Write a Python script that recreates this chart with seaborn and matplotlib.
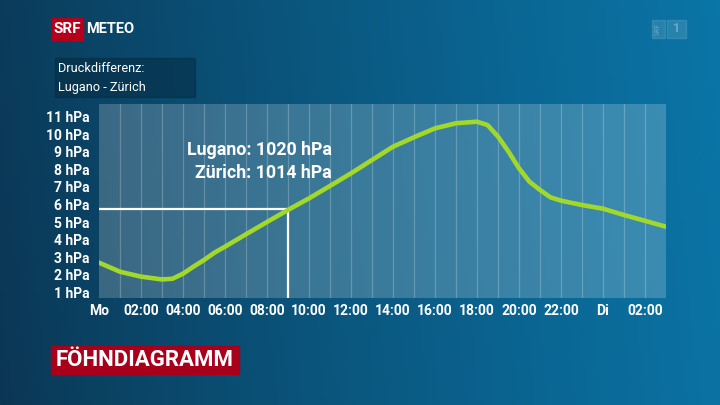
import numpy as np
import pandas as pd
import matplotlib
matplotlib.use("Agg")
import matplotlib.pyplot as plt
from matplotlib.patches import Rectangle
import seaborn as sns

# Data: pressure difference Lugano - Zürich (hours from Monday 00:00)
hours = [0, 1, 2, 3, 3.5, 4, 4.5, 5, 5.5, 6, 7, 8, 9, 10, 11, 12, 13, 14, 15,
         16, 17, 18, 18.5, 19, 19.5, 20, 20.5, 21, 21.5, 22, 23, 24, 25, 26, 27]
diff_hpa = [2.68, 2.16, 1.88, 1.72, 1.76, 2.05, 2.45, 2.83, 3.25, 3.59, 4.3,
            5.0, 5.69, 6.35, 7.06, 7.78, 8.54, 9.3, 9.84, 10.35, 10.64, 10.73,
            10.54, 9.88, 9.02, 8.07, 7.3, 6.83, 6.41, 6.22, 5.97, 5.76, 5.4,
            5.07, 4.73]

tick_hours = [0, 2, 4, 6, 8, 10, 12, 14, 16, 18, 20, 22, 24, 26]
tick_labels = ["Mo", "02:00", "04:00", "06:00", "08:00", "10:00", "12:00",
               "14:00", "16:00", "18:00", "20:00", "22:00", "Di", "02:00"]
y_ticks = [1, 2, 3, 4, 5, 6, 7, 8, 9, 10, 11]
y_labels = [f"{v} hPa" for v in y_ticks]

marker_hour = 9
marker_value = 5.74
annotation = ["Lugano: 1020 hPa", "Zürich: 1014 hPa"]

df = pd.DataFrame({"hour": hours, "diff": diff_hpa})

sns.set_theme(style="white")
plt.rcParams["font.family"] = ["Roboto", "DejaVu Sans"]

fig = plt.figure(figsize=(7.2, 4.05), dpi=100)

# background gradient
bg = fig.add_axes([0, 0, 1, 1])
xx, yy = np.meshgrid(np.linspace(0, 1, 200), np.linspace(0, 1, 120))
t = np.clip(xx * 0.85 + (1 - yy) * 0.05 + 0.05, 0, 1) ** 0.8
dark = np.array([0x0b, 0x30, 0x4b]) / 255
light = np.array([0x0a, 0x78, 0xab]) / 255
img = dark[None, None, :] * (1 - t[..., None]) + light[None, None, :] * t[..., None]
bg.imshow(img, aspect="auto", extent=[0, 1, 0, 1], origin="upper")
bg.set_axis_off()

# header / labels
fig.patches.append(Rectangle((52 / 720, 1 - 40 / 405), 31 / 720, 22 / 405,
                             transform=fig.transFigure, color="#b5001c"))
fig.text(67.5 / 720, 1 - 29 / 405, "SRF", color="white", fontsize=11,
         fontweight="bold", ha="center", va="center")
fig.text(86 / 720, 1 - 29 / 405, "METEO", color="white", fontsize=10.5,
         fontweight="bold", ha="left", va="center")

fig.patches.append(Rectangle((55 / 720, 1 - 97 / 405), 140 / 720, 39 / 405,
                             transform=fig.transFigure, color="#04263a",
                             alpha=0.45))
fig.text(58 / 720, 1 - 68 / 405, "Druckdifferenz:", color="white",
         fontsize=9.2, ha="left", va="center")
fig.text(58 / 720, 1 - 87 / 405, "Lugano - Zürich", color="white",
         fontsize=9.2, ha="left", va="center")

fig.patches.append(Rectangle((51 / 720, 1 - 374 / 405), 188 / 720, 28 / 405,
                             transform=fig.transFigure, color="#a8001a"))
fig.text(145 / 720, 1 - 360 / 405, "FÖHNDIAGRAMM", color="white",
         fontsize=16, fontweight="bold", ha="center", va="center")

# faint channel logo
fig.patches.append(Rectangle((652 / 720, 1 - 38 / 405), 13 / 720, 18 / 405,
                             transform=fig.transFigure, color="white",
                             alpha=0.12))
fig.patches.append(Rectangle((667 / 720, 1 - 38 / 405), 19 / 720, 18 / 405,
                             transform=fig.transFigure, color="white",
                             alpha=0.12))
fig.text(658.5 / 720, 1 - 29 / 405, "SRF", color="white", alpha=0.3,
         fontsize=5, rotation=90, ha="center", va="center")
fig.text(676.5 / 720, 1 - 29 / 405, "1", color="white", alpha=0.3,
         fontsize=9, fontweight="bold", ha="center", va="center")

# chart
ax = fig.add_axes([99 / 720, 1 - 298 / 405, 567 / 720, 194 / 405])
ax.set_facecolor((1, 1, 1, 0.2))
for s in ax.spines.values():
    s.set_visible(False)

for h in range(1, 27):
    ax.axvline(h, color="white", alpha=0.22, lw=0.9, zorder=1)

ax.plot([0, marker_hour], [marker_value, marker_value], color="white",
        lw=1.6, zorder=2, solid_capstyle="butt")
ax.plot([marker_hour, marker_hour], [0.66, marker_value], color="white",
        lw=1.6, zorder=2, solid_capstyle="butt")

sns.lineplot(data=df, x="hour", y="diff", ax=ax, color="#a2d82a", lw=3.3,
             zorder=3, solid_capstyle="round", solid_joinstyle="round")

ax.set_xlim(0, 27)
ax.set_ylim(0.66, 11.74)
ax.set_xticks(tick_hours)
ax.set_xticklabels(tick_labels)
ax.set_yticks(y_ticks)
ax.set_yticklabels(y_labels)
ax.tick_params(axis="both", length=0, colors="white", labelsize=10)
ax.tick_params(axis="x", pad=4)
ax.tick_params(axis="y", pad=7)
for lab in ax.get_xticklabels() + ax.get_yticklabels():
    lab.set_fontweight("bold")
ax.set_xlabel("")
ax.set_ylabel("")
ax.grid(False)

ax.text(11.1, 9.13, annotation[0], color="white", fontsize=12.8,
        fontweight="bold", ha="right", va="center", zorder=4)
ax.text(11.1, 7.8, annotation[1], color="white", fontsize=12.8,
        fontweight="bold", ha="right", va="center", zorder=4)

fig.savefig("out.png", dpi=100)
